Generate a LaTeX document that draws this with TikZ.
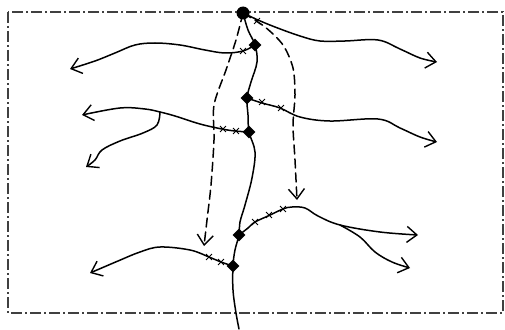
\documentclass[tikz,border=0pt]{standalone}
\usetikzlibrary{arrows.meta,shapes.geometric,shapes.misc}

\tikzset{
    stream/.style={line width=1.5pt, line join=round, line cap=round},
    outflow/.style={stream, -{Straight Barb[length=10pt,width=16pt,line width=1.4pt]}},
    seep/.style={outflow, dashed, dash pattern=on 9pt off 5pt},
    junction/.style={diamond, fill=black, inner sep=0pt, minimum size=13pt},
    source/.style={circle, fill=black, inner sep=0pt, minimum size=13pt},
    nick/.style={cross out, draw, line width=0.9pt, inner sep=0pt, minimum size=5pt}
}

\begin{document}
\begin{tikzpicture}[x=1pt, y=-1pt]
    \useasboundingbox (0,0) rectangle (505,329);
    \draw[line width=1.3pt, black!75, dash pattern=on 11pt off 3pt on 2pt off 3pt]
        (8,12) rectangle (503,313);

    \node[source] (src) at (243,13) {};
    \node[junction] (d1) at (255,45) {};
    \node[junction] (d2) at (247,98) {};
    \node[junction] (d3) at (249,132) {};
    \node[junction] (d4) at (239,235) {};
    \node[junction] (d5) at (233,266) {};

    \coordinate (tail) at (239,329);
    \coordinate (e1) at (437,62);
    \coordinate (e2) at (70,69);
    \coordinate (e3) at (437,142);
    \coordinate (e4) at (82,115);
    \coordinate (fk1) at (160,112);
    \coordinate (e5) at (86,167);
    \coordinate (e6) at (418,235);
    \coordinate (fk2) at (340,225);
    \coordinate (e7) at (410,268);
    \coordinate (e8) at (90,273);
    \coordinate (sA) at (204,246);
    \coordinate (sB) at (297,200);

    \draw[stream] plot[smooth, tension=0.6] coordinates {(src) (248,30) (d1) (257,62) (251,82) (d2) (248,115) (d3) (255,152) (252,178) (245,205) (240,222) (d4) (235,250) (d5) (233,290) (236,313) (tail)};

    \draw[outflow] plot[smooth, tension=0.6] coordinates {(src) (258,20) (275,27) (300,36) (320,41) (345,41) (378,40) (400,49) (420,58) (e1)};
    \draw[outflow] plot[smooth, tension=0.6] coordinates {(d1) (243,51) (225,53) (205,50) (180,45) (155,43) (135,45) (115,53) (95,61) (e2)};
    \draw[outflow] plot[smooth, tension=0.6] coordinates {(d2) (262,103) (280,108) (300,117) (330,121) (378,119) (400,128) (420,137) (e3)};
    \draw[outflow] plot[smooth, tension=0.6] coordinates {(d3) (235,131) (222,129) (200,124) (175,116) (fk1) (145,109) (120,108) (e4)};
    \draw[outflow] plot[smooth, tension=0.6] coordinates {(fk1) (157,125) (143,133) (120,141) (102,150) (95,160) (e5)};
    \draw[outflow] plot[smooth, tension=0.6] coordinates {(d4) (248,228) (255,222) (268,216) (283,209) (292,207) (305,208) (318,216) (fk2) (380,232) (e6)};
    \draw[outflow] plot[smooth, tension=0.6] coordinates {(fk2) (360,237) (375,252) (392,262) (e7)};
    \draw[outflow] plot[smooth, tension=0.6] coordinates {(d5) (221,262) (209,257) (190,250) (160,247) (140,252) (118,261) (e8)};

    \draw[seep] plot[smooth, tension=0.5] coordinates {(src) (236,40) (226,70) (214,105) (214,140) (211,185) (207,220) (sA)};
    \draw[seep] plot[smooth, tension=0.5] coordinates {(src) (265,27) (283,45) (293,68) (295,95) (293,125) (295,160) (sB)};

    \node[nick] (n1) at (257,21) {};
    \node[nick] (n2) at (243,51) {};
    \node[nick] (n3) at (262,102) {};
    \node[nick] (n4) at (281,108) {};
    \node[nick] (n5) at (236,131) {};
    \node[nick] (n6) at (223,129) {};
    \node[nick] (n7) at (255,222) {};
    \node[nick] (n8) at (269,215) {};
    \node[nick] (n9) at (283,209) {};
    \node[nick] (n10) at (221,262) {};
    \node[nick] (n11) at (209,257) {};
\end{tikzpicture}
\end{document}
